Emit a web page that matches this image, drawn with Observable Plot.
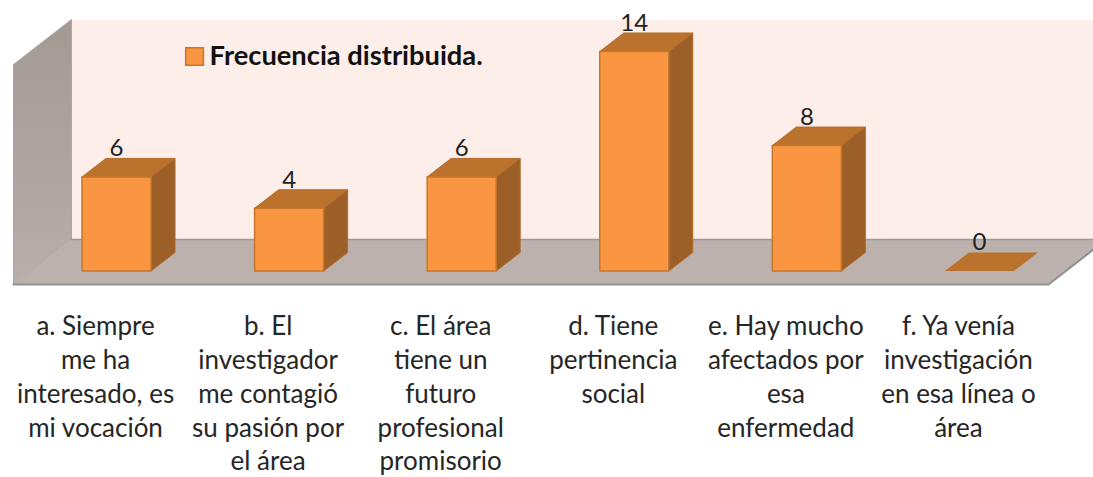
<!DOCTYPE html>
<html><head><meta charset="utf-8">
<script src="https://cdn.jsdelivr.net/npm/d3@7"></script>
<script src="https://cdn.jsdelivr.net/npm/@observablehq/plot@0.6"></script>
<style>html,body{margin:0;padding:0;background:#fff}svg{display:block}</style>
</head><body><div id="chart"></div>
<script>
const categories = [
  "a. Siempre\nme ha\ninteresado, es\nmi vocación",
  "b. El\ninvestigador\nme contagió\nsu pasión por\nel área",
  "c. El área\ntiene un\nfuturo\nprofesional\npromisorio",
  "d. Tiene\npertinencia\nsocial",
  "e. Hay mucho\nafectados por\nesa\nenfermedad",
  "f. Ya venía\ninvestigación\nen esa línea o\nárea"
];
const values = [6, 4, 6, 14, 8, 0];
const seriesName = "Frecuencia distribuida.";

// oblique projection offsets, in data units
const halfBar = 0.2, barDX = 0.139, barDY = 1.18;
const floorDX = 0.336, floorDY = 2.87;
const xMin = -0.597, xMax = 5.661, floorFront = -0.861, wallTop = 16.04;
const floorRight = 5.4;

const FONT = "Lato, 'Open Sans', sans-serif";
const idx = d3.range(values.length);
const poly = (pts, fill, stroke = "none", strokeWidth = 1) =>
  Plot.line([...pts, pts[0]], {x: d => d[0], y: d => d[1], fill, stroke, strokeWidth, curve: "linear-closed"});

const back = floorFront + floorDY;
const marks = [
  // back wall
  poly([[xMin + floorDX, back], [xMax, back], [xMax, wallTop], [xMin + floorDX, wallTop]], "#fdeee9"),
  // side wall
  poly([[xMin, floorFront], [xMin + floorDX, back], [xMin + floorDX, wallTop], [xMin, wallTop - floorDY]], "url(#sideWall)", "#a8a8a8", 1),
  // floor
  poly([[xMin, floorFront], [floorRight, floorFront], [floorRight + floorDX, back], [xMin + floorDX, back]], "#bdb1ad"),
  Plot.line([[xMin + floorDX, back], [xMax, back]], {x: d => d[0], y: d => d[1], stroke: "#9a9a9a", strokeWidth: 1.5}),
  Plot.line([[xMin, floorFront], [floorRight, floorFront], [xMax, floorFront + (xMax - floorRight) * floorDY / floorDX]], {x: d => d[0], y: d => d[1], stroke: "#8f9191", strokeWidth: 2}),
  () => {
    const ns = "http://www.w3.org/2000/svg";
    const defs = document.createElementNS(ns, "defs");
    defs.innerHTML = `<linearGradient id="sideWall" x1="0" y1="0" x2="0" y2="1"><stop offset="0" stop-color="#a39a94"/><stop offset="1" stop-color="#b9aeaa"/></linearGradient>`;
    return defs;
  }
];
for (const i of idx) {
  const v = values[i], l = i - halfBar, r = i + halfBar;
  if (v > 0) {
    marks.push(poly([[r, 0], [r + barDX, barDY], [r + barDX, v + barDY], [r, v]], "#9c5f28", "#b26c2b"));
    marks.push(poly([[l, v], [r, v], [r + barDX, v + barDY], [l + barDX, v + barDY]], "#ba722d", "#b26c2b"));
    marks.push(poly([[l, 0], [r, 0], [r, v], [l, v]], "#fa9642", "#c5772b", 1.5));
  } else {
    marks.push(poly([[l, v], [r, v], [r + barDX, v + barDY], [l + barDX, v + barDY]], "#ba722d"));
  }
}
marks.push(
  Plot.text(idx, {x: i => i, y: i => values[i] + barDY, text: i => String(values[i]),
    lineAnchor: "bottom", dy: -2, fontSize: 24, fill: "#222", fontFamily: FONT}),
  Plot.axisX(idx, {tickFormat: i => categories[i], tickSize: 0, tickPadding: 32, dy: -5, dx: -21, lineHeight: 1.298,
    fontSize: 26, fill: "#262626", fontFamily: FONT, textStroke: "none", lineAnchor: "top"}),
  Plot.dot([seriesName], {x: () => 0.452, y: () => 13.68, symbol: "square", r: 10, fill: "#fa9642", stroke: "#c5772b", strokeWidth: 1.5}),
  Plot.text([seriesName], {x: () => 0.452, y: () => 13.68, dx: 15, text: d => d, textAnchor: "start",
    fontSize: 27.3, fontWeight: 700, fill: "#111", fontFamily: FONT})
);

document.getElementById("chart").append(Plot.plot({
  width: 1093, height: 477,
  marginTop: 19, marginBottom: 193, marginLeft: 13, marginRight: 0,
  x: {type: "linear", domain: [xMin, xMax], axis: null},
  y: {domain: [floorFront, wallTop], axis: null},
  style: {background: "#fff", fontFamily: FONT},
  marks
}));
</script></body></html>
